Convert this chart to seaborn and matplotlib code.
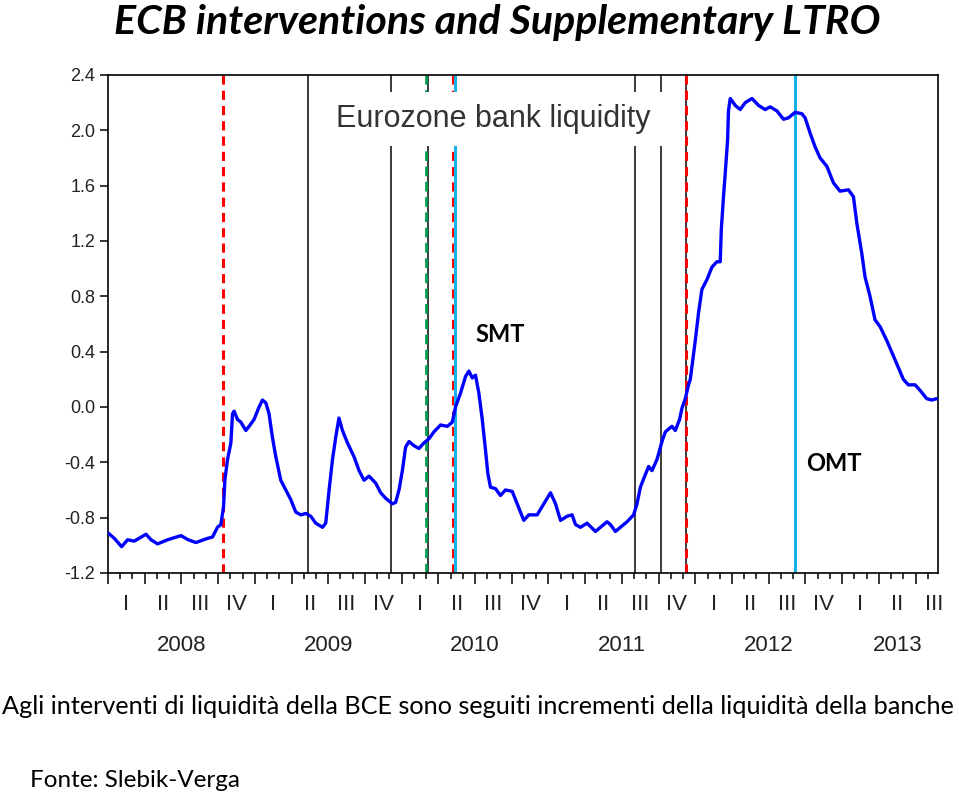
import matplotlib
matplotlib.use("Agg")
import matplotlib.pyplot as plt
import matplotlib.transforms as mtransforms
from matplotlib import font_manager
import numpy as np
import pandas as pd
import seaborn as sns

# ==========================================
# DATA
# ==========================================
# decimal years of the weekly-ish readings
years = [
    2008.000, 2008.043, 2008.093, 2008.134, 2008.179, 2008.259, 2008.293, 2008.338,
    2008.406, 2008.497, 2008.546, 2008.599, 2008.678, 2008.712, 2008.746, 2008.769,
    2008.787, 2008.796, 2008.814, 2008.837, 2008.848, 2008.859, 2008.882, 2008.905,
    2008.939, 2008.961, 2008.995, 2009.029, 2009.052, 2009.075, 2009.097, 2009.120,
    2009.143, 2009.177, 2009.211, 2009.245, 2009.279, 2009.313, 2009.347, 2009.381,
    2009.415, 2009.461, 2009.483, 2009.506, 2009.529, 2009.551, 2009.573, 2009.597,
    2009.631, 2009.676, 2009.710, 2009.744, 2009.778, 2009.823, 2009.857, 2009.891,
    2009.937, 2009.959, 2009.982, 2010.005, 2010.027, 2010.050, 2010.084, 2010.118,
    2010.152, 2010.186, 2010.220, 2010.265, 2010.311, 2010.345, 2010.367, 2010.401,
    2010.435, 2010.458, 2010.481, 2010.503, 2010.526, 2010.549, 2010.571, 2010.587,
    2010.605, 2010.639, 2010.673, 2010.707, 2010.753, 2010.787, 2010.832, 2010.866,
    2010.923, 2010.957, 2011.014, 2011.048, 2011.082, 2011.127, 2011.161, 2011.184,
    2011.218, 2011.263, 2011.320, 2011.354, 2011.399, 2011.422, 2011.456, 2011.490,
    2011.535, 2011.580, 2011.603, 2011.626, 2011.648, 2011.682, 2011.705, 2011.739,
    2011.773, 2011.796, 2011.841, 2011.864, 2011.893, 2011.909, 2011.932, 2011.954,
    2011.966, 2012.000, 2012.022, 2012.045, 2012.079, 2012.113, 2012.147, 2012.170,
    2012.177, 2012.192, 2012.204, 2012.220, 2012.226, 2012.238, 2012.272, 2012.306,
    2012.340, 2012.386, 2012.431, 2012.476, 2012.510, 2012.556, 2012.601, 2012.634,
    2012.680, 2012.726, 2012.748, 2012.782, 2012.816, 2012.850, 2012.896, 2012.941,
    2012.986, 2013.043, 2013.077, 2013.100, 2013.134, 2013.156, 2013.190, 2013.224,
    2013.259, 2013.304, 2013.361, 2013.417, 2013.451, 2013.497, 2013.531, 2013.576,
    2013.610, 2013.644,
]
liquidity = [
    -0.91, -0.95, -1.01, -0.96, -0.97, -0.92, -0.96, -0.99,
    -0.96, -0.93, -0.96, -0.98, -0.95, -0.94, -0.87, -0.85,
    -0.72, -0.53, -0.38, -0.26, -0.05, -0.03, -0.09, -0.11,
    -0.17, -0.14, -0.09, 0.00, 0.05, 0.03, -0.05, -0.22,
    -0.36, -0.53, -0.60, -0.67, -0.76, -0.78, -0.77, -0.79,
    -0.84, -0.87, -0.84, -0.60, -0.38, -0.22, -0.08, -0.17,
    -0.26, -0.36, -0.46, -0.53, -0.50, -0.55, -0.62, -0.66,
    -0.70, -0.69, -0.60, -0.46, -0.29, -0.25, -0.28, -0.30,
    -0.26, -0.23, -0.18, -0.13, -0.14, -0.11, 0.00, 0.10,
    0.22, 0.26, 0.21, 0.23, 0.10, -0.09, -0.31, -0.48,
    -0.58, -0.59, -0.64, -0.60, -0.61, -0.70, -0.82, -0.78,
    -0.78, -0.72, -0.62, -0.70, -0.82, -0.79, -0.78, -0.85,
    -0.87, -0.84, -0.90, -0.87, -0.83, -0.85, -0.90, -0.87,
    -0.83, -0.78, -0.70, -0.58, -0.52, -0.43, -0.46, -0.38,
    -0.25, -0.18, -0.14, -0.17, -0.09, -0.01, 0.06, 0.16,
    0.20, 0.48, 0.68, 0.85, 0.92, 1.01, 1.05, 1.05,
    1.28, 1.52, 1.69, 1.93, 2.14, 2.23, 2.18, 2.15,
    2.20, 2.23, 2.18, 2.15, 2.17, 2.14, 2.08, 2.09,
    2.13, 2.12, 2.09, 1.98, 1.88, 1.80, 1.74, 1.62,
    1.56, 1.57, 1.52, 1.33, 1.11, 0.94, 0.80, 0.63,
    0.58, 0.48, 0.34, 0.20, 0.16, 0.16, 0.12, 0.06,
    0.05, 0.06,
]

# ECB intervention dates (decimal years)
black_events = [2009.361, 2009.925, 2010.177, 2011.592, 2011.769, 2011.936]
red_events = [2008.782, 2010.347, 2011.939]
green_events = [2010.168]
cyan_events = [2010.361, 2012.680]

quarter_names = ["I", "II", "III", "IV"]
year_names = [2008, 2009, 2010, 2011, 2012, 2013]
y_ticks = [-1.2, -0.8, -0.4, 0.0, 0.4, 0.8, 1.2, 1.6, 2.0, 2.4]

X_START, X_END = 2008.0, 2013.653

TITLE = "ECB interventions and Supplementary LTRO"
CAPTION = "Agli interventi di liquidità della BCE sono seguiti incrementi della liquidità della banche"
SOURCE = "Fonte: Slebik-Verga"


def pick_font(*names):
    for n in names:
        try:
            font_manager.findfont(font_manager.FontProperties(family=n), fallback_to_default=False)
            return n
        except ValueError:
            pass
    return "DejaVu Sans"


sns.set_theme(style="ticks")
plt.rcParams["axes.unicode_minus"] = False

ARIAL = pick_font("Liberation Sans", "Arimo", "DejaVu Sans")
NARROW = pick_font("Liberation Sans Narrow", "Liberation Sans", "DejaVu Sans")
CAL = pick_font("Lato", "Open Sans", "DejaVu Sans")
plt.rcParams["font.family"] = [ARIAL, "DejaVu Sans"]

df = pd.DataFrame({"year": years, "liquidity": liquidity})

fig = plt.figure(figsize=(9.59, 7.96), dpi=100)
fig.patch.set_facecolor("white")
ax = fig.add_axes([0.1126, 0.2802, 0.8655, 0.6256])
ax.set_facecolor("white")

# vertical intervention markers
for x in black_events:
    ax.axvline(x, color="#1a1a1a", lw=1.2, zorder=2)
for x in green_events:
    ax.axvline(x, color="#00a050", lw=2.0, dashes=(3.5, 2.0), zorder=2)
for x in red_events:
    ax.axvline(x, color="#ff0000", lw=2.2, dashes=(3.0, 2.0), zorder=2)
for x in cyan_events:
    ax.axvline(x, color="#16b0ea", lw=2.2, zorder=2)

sns.lineplot(data=df, x="year", y="liquidity", color="#0000ff", lw=2.4,
             estimator=None, sort=False, ax=ax, zorder=5)

ax.set_xlim(X_START, X_END)
ax.set_ylim(-1.2, 2.4)
ax.set_xlabel("")
ax.set_ylabel("")

# y axis
ax.set_yticks(y_ticks)
ax.set_yticklabels([f"{v:.1f}" for v in y_ticks], fontsize=13, color="#222222")
ax.tick_params(axis="y", which="major", direction="out", length=6, width=1.1,
               color="black", pad=3)

# x axis: quarterly long ticks, monthly short ticks, text labels below
ax.set_xticks(np.arange(2008.0, X_END, 0.25))
ax.set_xticks(np.arange(2008.0, X_END, 1 / 12), minor=True)
ax.tick_params(axis="x", which="major", direction="out", length=8, width=1.1,
               color="black", labelbottom=False)
ax.tick_params(axis="x", which="minor", direction="out", length=4, width=1.1,
               color="black", bottom=True)

for s in ax.spines.values():
    s.set_visible(True)
    s.set_color("black")
    s.set_linewidth(1.2)

trans = mtransforms.blended_transform_factory(ax.transData, ax.transAxes)
for yr in year_names:
    for qi, q in enumerate(quarter_names):
        xc = yr + (qi + 0.5) / 4
        if xc > X_END:
            continue
        ax.text(xc, -0.064, q, transform=trans, ha="center", va="center",
                fontsize=16, family=NARROW, color="#222222")
    lo, hi = max(yr, X_START), min(yr + 1, X_END)
    ax.text((lo + hi) / 2 + (0.05 if yr == 2013 else 0), -0.145, str(yr),
            transform=trans, ha="center", va="center", fontsize=16,
            family=NARROW, color="#222222")

# in-plot labels
ax.text(0.4645, 0.912, "Eurozone bank liquidity", transform=ax.transAxes,
        ha="center", va="center", fontsize=22, color="#333333", zorder=4,
        bbox=dict(boxstyle="square,pad=0.4", facecolor="white", edgecolor="none"))
ax.text(0.472, 0.478, "SMT", transform=ax.transAxes, ha="center", va="center",
        fontsize=17, fontweight="bold", family=CAL, color="black", zorder=6)
ax.text(0.875, 0.219, "OMT", transform=ax.transAxes, ha="center", va="center",
        fontsize=17, fontweight="bold", family=CAL, color="black", zorder=6)

# title and caption, scaled to the widths seen in the reference
renderer = fig.canvas.get_renderer()


def fit_width(t, px):
    w = t.get_window_extent(renderer=renderer).width
    t.set_fontsize(t.get_fontsize() * px / w)


t_title = fig.text(0.518, 0.972, TITLE, ha="center", va="center", fontsize=26,
                   fontweight="bold", fontstyle="italic", family=CAL, color="black")
fit_width(t_title, 768)
t_cap = fig.text(0.002, 0.112, CAPTION, ha="left", va="center", fontsize=20,
                 family=CAL, color="black")
fit_width(t_cap, 955)
t_src = fig.text(0.031, 0.02, SOURCE, ha="left", va="center", fontsize=20,
                 family=CAL, color="black")
fit_width(t_src, 210)

fig.savefig("out.png", dpi=100, facecolor="white")
